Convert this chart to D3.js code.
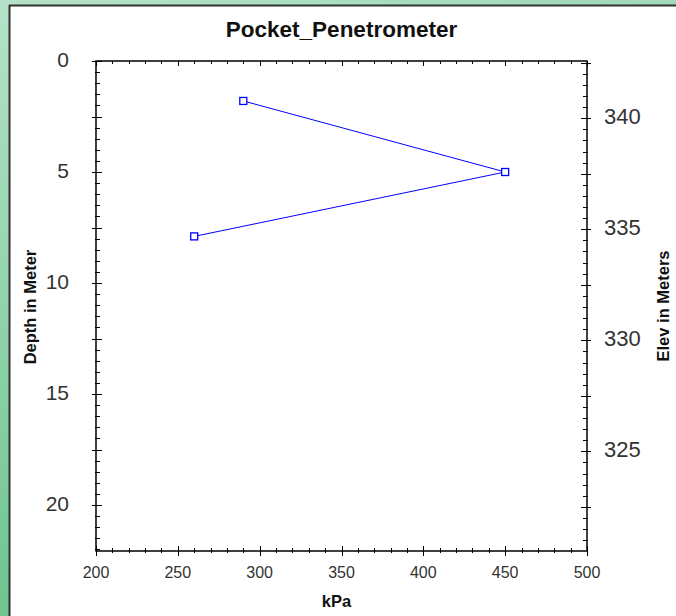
<!DOCTYPE html>
<html><head><meta charset="utf-8">
<script src="https://cdn.jsdelivr.net/npm/d3@7"></script>
<style>html,body{margin:0;padding:0;overflow:hidden;}svg{display:block;font-family:"Liberation Sans",Arial,sans-serif;}</style>
</head><body>
<script>
const title = "Pocket_Penetrometer";
const kpaValues = [290, 450, 260];
const depthValues = [1.8, 5.0, 7.9];
const xTickLabels = [200, 250, 300, 350, 400, 450, 500];
const depthTickLabels = [0, 5, 10, 15, 20];
const elevTickLabels = [340, 335, 330, 325];
const surfaceElev = 342.58;
const depthMax = 22.07;

const W = 676, H = 616;
const svg = d3.select("body").append("svg").attr("width", W).attr("height", H);
const defs = svg.append("defs");
const grad = defs.append("linearGradient").attr("id","bg").attr("x1","0").attr("y1","0").attr("x2","0.3").attr("y2","1");
grad.append("stop").attr("offset","0").attr("stop-color","#b4e2c8");
grad.append("stop").attr("offset","1").attr("stop-color","#68c28a");
svg.append("rect").attr("width",W).attr("height",H).attr("fill","url(#bg)");
svg.append("rect").attr("x",9).attr("y",5).attr("width",W).attr("height",H).attr("fill","#fff");
svg.append("line").attr("x1",9.5).attr("x2",9.5).attr("y1",5).attr("y2",H).attr("stroke","#333").attr("stroke-width",2);
svg.append("line").attr("x1",9).attr("x2",W).attr("y1",5.5).attr("y2",5.5).attr("stroke","#333").attr("stroke-width",2);

const L = 96, R = 587, T = 61, B = 551;
const x = d3.scaleLinear().domain([200, 500]).range([L, R]);
const y = d3.scaleLinear().domain([0, depthMax]).range([T, B]);
const ye = d3.scaleLinear().domain([surfaceElev, surfaceElev - depthMax]).range([T, B]);

const g = svg.append("g");
g.append("rect").attr("x",L).attr("y",T).attr("width",R-L).attr("height",B-T).attr("fill","none").attr("stroke","#000").attr("stroke-width",1.5);

function isMult(v, m){ return Math.abs(v/m - Math.round(v/m)) < 1e-6; }
d3.range(200, 500.01, 10).forEach(v=>{
  const px = Math.round(x(v))+0.5, major = isMult(v,50);
  g.append("line").attr("x1",px).attr("x2",px).attr("y1",B-(major?5:3)).attr("y2",B+(major?5:2)).attr("stroke","#000");
  g.append("line").attr("x1",px).attr("x2",px).attr("y1",T).attr("y2",T+(major?5:3)).attr("stroke","#000");
});
d3.range(0, depthMax, 0.5).forEach(v=>{
  const py = Math.round(y(v))+0.5, major = isMult(v,2.5);
  g.append("line").attr("x1",L-(major?4:1)).attr("x2",L+(major?6:4)).attr("y1",py).attr("y2",py).attr("stroke","#000");
});
const eTop = surfaceElev, eBot = surfaceElev - depthMax;
d3.range(Math.ceil(eBot*2)/2, eTop, 0.5).forEach(v=>{
  const py = Math.round(ye(v))+0.5, major = isMult(v,2.5);
  g.append("line").attr("x1",R-(major?6:4)).attr("x2",R+(major?4:1)).attr("y1",py).attr("y2",py).attr("stroke","#000");
});
g.selectAll(".xl").data(xTickLabels).join("text").attr("x",d=>x(d)).attr("y",B+27)
  .attr("text-anchor","middle").attr("font-size",16).attr("fill","#333").text(d=>d);
g.selectAll(".yl").data(depthTickLabels).join("text").attr("x",L-27).attr("y",d=>y(d)).attr("dy","0.3em")
  .attr("text-anchor","end").attr("font-size",21).attr("fill","#333").text(d=>d);
g.selectAll(".el").data(elevTickLabels).join("text").attr("x",R+17).attr("y",d=>ye(d)).attr("dy","0.26em")
  .attr("text-anchor","start").attr("font-size",22).attr("fill","#333").text(d=>d);

svg.append("text").attr("x",(L+R)/2).attr("y",37).attr("text-anchor","middle").attr("font-size",22.5).attr("font-weight","bold").attr("fill","#111").text(title);
svg.append("text").attr("x",(L+R)/2-5).attr("y",607).attr("text-anchor","middle").attr("font-size",16.5).attr("font-weight","bold").attr("fill","#111").text("kPa");
svg.append("text").attr("transform",`translate(36,${(T+B)/2+1}) rotate(-90)`).attr("text-anchor","middle").attr("font-size",16.5).attr("font-weight","bold").attr("fill","#111").text("Depth in Meter");
svg.append("text").attr("transform",`translate(669,${(T+B)/2}) rotate(-90)`).attr("text-anchor","middle").attr("font-size",16.5).attr("font-weight","bold").attr("fill","#111").text("Elev in Meters");

const data = kpaValues.map((k,i)=>({k, d: depthValues[i]}));
g.append("path").datum(data).attr("fill","none").attr("stroke","#0000ff").attr("stroke-width",1)
  .attr("d", d3.line().x(d=>x(d.k)).y(d=>y(d.d)));
g.selectAll(".pt").data(data).join("rect").attr("x",d=>x(d.k)-3.5).attr("y",d=>y(d.d)-3.5)
  .attr("width",7).attr("height",7).attr("fill","#fff").attr("stroke","#0000ff").attr("stroke-width",1.3);
</script>
</body></html>
